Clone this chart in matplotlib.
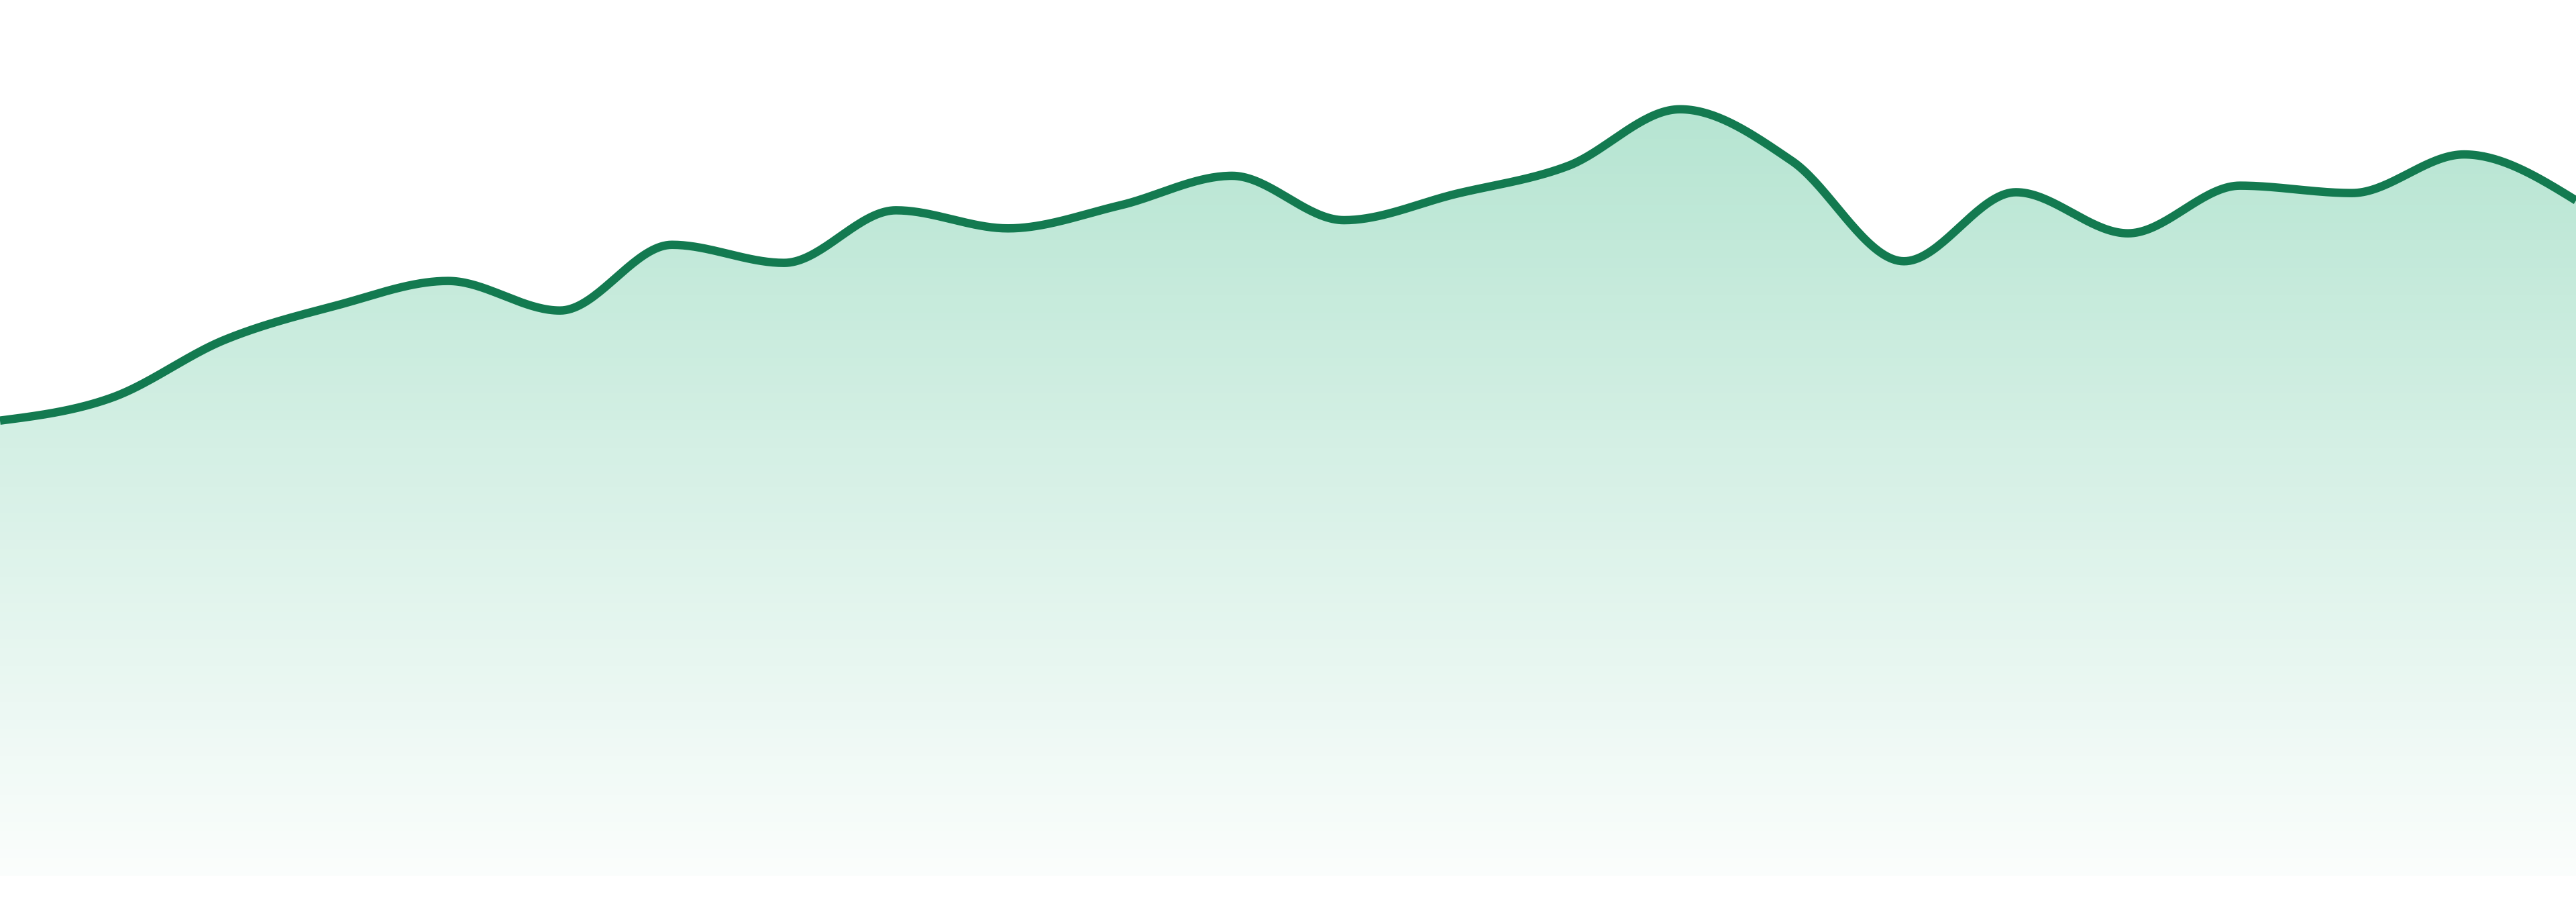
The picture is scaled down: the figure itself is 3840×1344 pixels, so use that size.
import numpy as np
import matplotlib
matplotlib.use("Agg")
import matplotlib.pyplot as plt
from matplotlib.colors import to_rgb

# Data (one value per step)
steps = list(range(24))
values = [277, 291, 326, 347, 362, 344, 384, 373, 405, 394, 408, 426,
          399, 415, 432, 466.5, 435, 374, 416, 391, 420, 415.5, 439, 411]

line_color = '#137a50'
fill_color = '#2db47d'


def monotone_curve(x, y, n=40):
    # monotone cubic (same idea as d3 curveMonotoneX)
    x = np.asarray(x, float)
    y = np.asarray(y, float)
    h = np.diff(x)
    s = np.diff(y) / h
    m = np.zeros_like(y)
    for i in range(1, len(y) - 1):
        p = (s[i - 1] * h[i] + s[i] * h[i - 1]) / (h[i - 1] + h[i])
        m[i] = (np.sign(s[i - 1]) + np.sign(s[i])) * min(abs(s[i - 1]), abs(s[i]), 0.5 * abs(p))
    m[0] = (3 * s[0] - m[1]) / 2
    m[-1] = (3 * s[-1] - m[-2]) / 2
    xs, ys = [], []
    for i in range(len(x) - 1):
        t = np.linspace(0, 1, n, endpoint=False)
        h00 = 2 * t**3 - 3 * t**2 + 1
        h10 = t**3 - 2 * t**2 + t
        h01 = -2 * t**3 + 3 * t**2
        h11 = t**3 - t**2
        xs.append(x[i] + t * h[i])
        ys.append(h00 * y[i] + h10 * h[i] * m[i] + h01 * y[i + 1] + h11 * h[i] * m[i + 1])
    xs.append([x[-1]])
    ys.append([y[-1]])
    return np.concatenate(xs), np.concatenate(ys)


cx, cy = monotone_curve(steps, values)

fig = plt.figure(figsize=(38.4, 13.44), dpi=100)
ax = fig.add_axes([0, 0, 1, 1])
ax.set_xlim(steps[0], steps[-1])
ax.set_ylim(-16, 533)
ax.axis('off')

# gradient fill under the line
area = ax.fill_between(cx, cy, 0, color='none', lw=0)
top = max(values)
rgb = to_rgb(fill_color)
alphas = np.linspace(0.35, 0.02, 256)
grad = np.zeros((256, 1, 4))
grad[:, 0, :3] = rgb
grad[:, 0, 3] = alphas
img = ax.imshow(grad, aspect='auto', extent=[steps[0], steps[-1], 0, top],
                origin='upper', zorder=1)
img.set_clip_path(area.get_paths()[0], transform=ax.transData)

ax.plot(cx, cy, color=line_color, lw=9, solid_capstyle='butt', zorder=3)

fig.savefig('out.png', dpi=100)
